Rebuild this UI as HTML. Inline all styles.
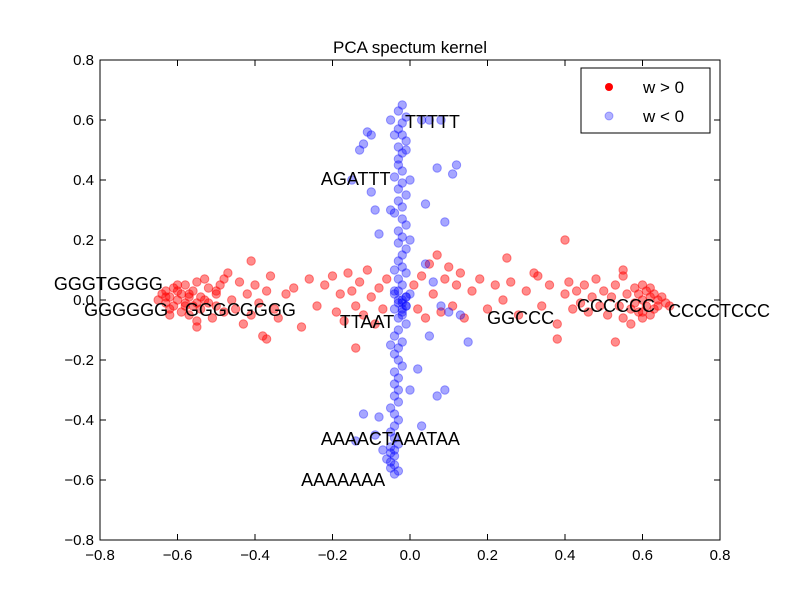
<!DOCTYPE html>
<html><head><meta charset="utf-8"><style>
html,body{margin:0;padding:0;background:#fff;}
svg{display:block;font-family:"Liberation Sans",sans-serif;}
</style></head><body>
<svg id="chart" width="800" height="600" viewBox="0 0 800 600" xmlns="http://www.w3.org/2000/svg">
<rect width="800" height="600" fill="#fff"/>
<text x="410" y="53" font-size="17" text-anchor="middle">PCA spectum kernel</text>
<g id="points"></g>
<g id="labels"></g>
<rect x="100" y="60" width="620" height="480" fill="none" stroke="#000" stroke-width="1"/>
<g id="ticks"></g>
<g>
<rect x="581" y="68" width="129" height="65" fill="#fff" stroke="#000"/>
<circle cx="609" cy="87" r="4" fill="red"/>
<text x="643" y="93" font-size="17">w &gt; 0</text>
<circle cx="609" cy="116" r="4" fill="blue" fill-opacity="0.3" stroke="blue" stroke-opacity="0.3"/>
<text x="643" y="122" font-size="17">w &lt; 0</text>
</g>
</svg>
<script>
const xTicks=[-0.8,-0.6,-0.4,-0.2,0.0,0.2,0.4,0.6,0.8];
const yTicks=[0.8,0.6,0.4,0.2,0.0,-0.2,-0.4,-0.6,-0.8];
const redX=[
-0.65,-0.64,-0.63,-0.63,-0.62,-0.62,-0.61,-0.61,-0.60,-0.60,
-0.59,-0.59,-0.58,-0.58,-0.57,-0.57,-0.56,-0.56,-0.55,-0.55,
-0.54,-0.54,-0.53,-0.52,-0.52,-0.51,-0.50,-0.50,-0.49,-0.48,
-0.47,-0.46,-0.45,-0.44,-0.43,-0.42,-0.41,-0.40,-0.39,-0.38,
-0.37,-0.36,-0.35,-0.34,-0.32,-0.30,-0.28,-0.26,-0.24,-0.22,
-0.20,-0.19,-0.18,-0.17,-0.16,-0.15,-0.14,-0.13,-0.12,-0.11,
-0.10,-0.09,-0.08,-0.07,-0.06,0.01,0.02,0.03,0.04,0.05,
0.06,0.07,0.08,0.09,0.10,0.11,0.12,0.13,0.14,0.16,
0.18,0.20,0.22,0.24,0.26,0.28,0.30,0.32,0.34,0.36,
0.38,0.40,0.41,0.42,0.43,0.44,0.45,0.46,0.47,0.48,
0.49,0.50,0.51,0.52,0.53,0.54,0.55,0.55,0.56,0.57,
0.58,0.58,0.59,0.59,0.60,0.60,0.61,0.61,0.62,0.62,
0.63,0.63,0.64,0.64,0.65,0.66,0.67,0.57,0.53,0.60,
-0.55,-0.48,-0.41,-0.37,0.40,0.55,0.38,0.33,0.25,-0.14,
-0.60,-0.57,-0.62,-0.53,-0.50,-0.58,-0.63,-0.55,0.62,0.60];
const redY=[
0.00,0.02,-0.01,0.03,-0.03,0.01,0.04,-0.02,0.00,0.03,
-0.04,0.02,0.05,-0.01,0.01,-0.05,0.03,-0.02,0.06,-0.07,
0.01,-0.03,0.07,-0.01,0.04,-0.06,0.02,-0.02,0.05,-0.04,
0.09,0.00,-0.03,0.06,-0.08,0.02,-0.05,0.05,-0.01,-0.12,
0.03,0.08,-0.03,-0.06,0.02,0.04,-0.09,0.07,-0.02,0.05,
0.08,-0.04,0.02,-0.07,0.09,0.03,-0.02,0.06,-0.05,0.10,
0.01,-0.08,0.04,-0.03,0.07,0.05,-0.03,0.08,-0.06,0.12,
0.02,0.15,-0.04,0.07,0.11,-0.02,0.05,0.09,-0.06,0.03,
0.07,-0.03,0.05,0.00,0.06,-0.05,0.03,0.09,-0.02,0.05,
-0.08,0.02,0.06,-0.03,0.03,-0.01,0.05,-0.04,0.01,0.07,
-0.02,0.03,-0.05,0.01,0.05,-0.02,0.08,-0.06,0.02,-0.03,
0.04,-0.01,0.02,-0.04,0.00,0.05,-0.02,0.03,-0.05,0.01,
-0.03,0.02,0.00,-0.02,0.01,-0.01,-0.02,-0.08,-0.14,-0.06,
-0.09,0.07,0.13,-0.13,0.20,0.10,-0.13,0.08,0.14,-0.16,
0.05,0.02,-0.05,0.00,0.03,-0.02,0.01,-0.01,0.04,-0.04];
const blueX=[
-0.02,-0.03,-0.01,-0.02,-0.03,-0.02,-0.01,-0.03,-0.02,-0.03,
-0.03,-0.02,-0.04,-0.02,-0.03,-0.01,-0.03,-0.02,-0.04,-0.02,
-0.01,-0.03,-0.02,-0.03,-0.01,-0.02,-0.03,-0.02,-0.01,-0.03,
-0.02,-0.04,-0.01,-0.03,-0.02,0.00,-0.04,-0.02,-0.03,-0.01,
-0.03,-0.04,-0.02,-0.03,-0.04,-0.03,-0.02,-0.04,-0.03,-0.04,
-0.03,-0.04,-0.03,-0.05,-0.04,-0.03,-0.04,-0.05,-0.04,-0.03,
-0.04,-0.05,-0.04,-0.06,-0.05,-0.04,-0.05,-0.03,-0.04,-0.05,
-0.05,-0.01,0.00,-0.05,0.00,-0.04,-0.01,-0.05,0.00,-0.04,
0.03,0.05,0.08,0.12,0.11,0.07,0.04,0.09,0.15,-0.10,
-0.12,-0.13,-0.15,-0.10,-0.09,-0.08,-0.11,0.04,0.06,0.08,
0.05,0.10,0.13,-0.12,-0.08,0.07,0.03,-0.14,0.09,-0.07,
0.02,-0.09,-0.02,-0.01,-0.03,-0.02,-0.01,-0.02,-0.04,-0.03];
const blueY=[
0.65,0.63,0.61,0.59,0.57,0.55,0.53,0.51,0.49,0.47,
0.45,0.43,0.41,0.39,0.37,0.35,0.33,0.31,0.29,0.27,
0.25,0.23,0.21,0.19,0.17,0.15,0.13,0.11,0.09,0.07,
0.05,0.03,0.01,0.00,-0.01,0.02,-0.03,-0.04,-0.06,-0.08,
-0.10,-0.12,-0.14,-0.16,-0.18,-0.20,-0.22,-0.24,-0.26,-0.28,
-0.30,-0.32,-0.34,-0.36,-0.38,-0.40,-0.42,-0.44,-0.46,-0.48,
-0.50,-0.51,-0.52,-0.53,-0.54,-0.55,-0.56,-0.57,-0.58,-0.49,
0.60,0.50,0.40,0.30,0.20,0.10,-0.02,-0.15,-0.30,0.55,
0.60,0.60,0.60,0.45,0.42,0.44,0.32,0.26,-0.14,0.55,
0.52,0.50,0.40,0.36,0.30,0.22,0.56,0.12,0.06,-0.02,
-0.12,-0.04,-0.05,-0.38,-0.39,-0.32,-0.42,-0.47,-0.30,-0.50,
-0.23,-0.45,0.00,-0.02,0.03,-0.05,0.01,-0.03,0.02,-0.01];
const labelText=["TTTTT","AGATTT","GGGTGGGG","GGGGGG","GGGCGGGG","TTAAT","GGCCC","CCCCCC","CCCCTCCC","AAAACTAAATAA","AAAAAAA"];
const labelX=[-0.013,-0.23,-0.919,-0.841,-0.581,-0.181,0.199,0.431,0.666,-0.23,-0.281];
const labelY=[0.593,0.403,0.053,-0.033,-0.033,-0.073,-0.06,-0.02,-0.037,-0.463,-0.6];
const NS="http://www.w3.org/2000/svg";
const xs=v=>410+v*387.5, ys=v=>300-v*300;
function mk(t,a){const e=document.createElementNS(NS,t);for(const k in a)e.setAttribute(k,a[k]);return e;}
const pts=document.getElementById('points');
redX.forEach((x,i)=>{const c=mk('circle',{cx:xs(x),cy:ys(redY[i]),r:4.2,fill:'red','fill-opacity':0.45,stroke:'red','stroke-opacity':0.45});


pts.appendChild(c);});
blueX.forEach((x,i)=>{const c=mk('circle',{cx:xs(x),cy:ys(blueY[i]),r:4.2,fill:'blue','fill-opacity':0.35,stroke:'blue','stroke-opacity':0.35});


pts.appendChild(c);});
const lb=document.getElementById('labels');
labelText.forEach((t,i)=>{const e=mk('text',{x:xs(labelX[i]),y:ys(labelY[i])+6,'font-size':18});e.textContent=t;


lb.appendChild(e);});
const tk=document.getElementById('ticks');
xTicks.forEach(v=>{const x=xs(v);
tk.appendChild(mk('line',{x1:x,y1:540,x2:x,y2:534,stroke:'#000'}));
tk.appendChild(mk('line',{x1:x,y1:60,x2:x,y2:66,stroke:'#000'}));
const t=mk('text',{x:x,y:560,'font-size':15,'text-anchor':'middle'});t.textContent=v.toFixed(1).replace('-','\u2212');


tk.appendChild(t);});
yTicks.forEach(v=>{const y=ys(v);
tk.appendChild(mk('line',{x1:100,y1:y,x2:106,y2:y,stroke:'#000'}));
tk.appendChild(mk('line',{x1:720,y1:y,x2:714,y2:y,stroke:'#000'}));
const t=mk('text',{x:94,y:y+5,'font-size':15,'text-anchor':'end'});t.textContent=v.toFixed(1).replace('-','\u2212');


tk.appendChild(t);});
</script>
</body></html>
